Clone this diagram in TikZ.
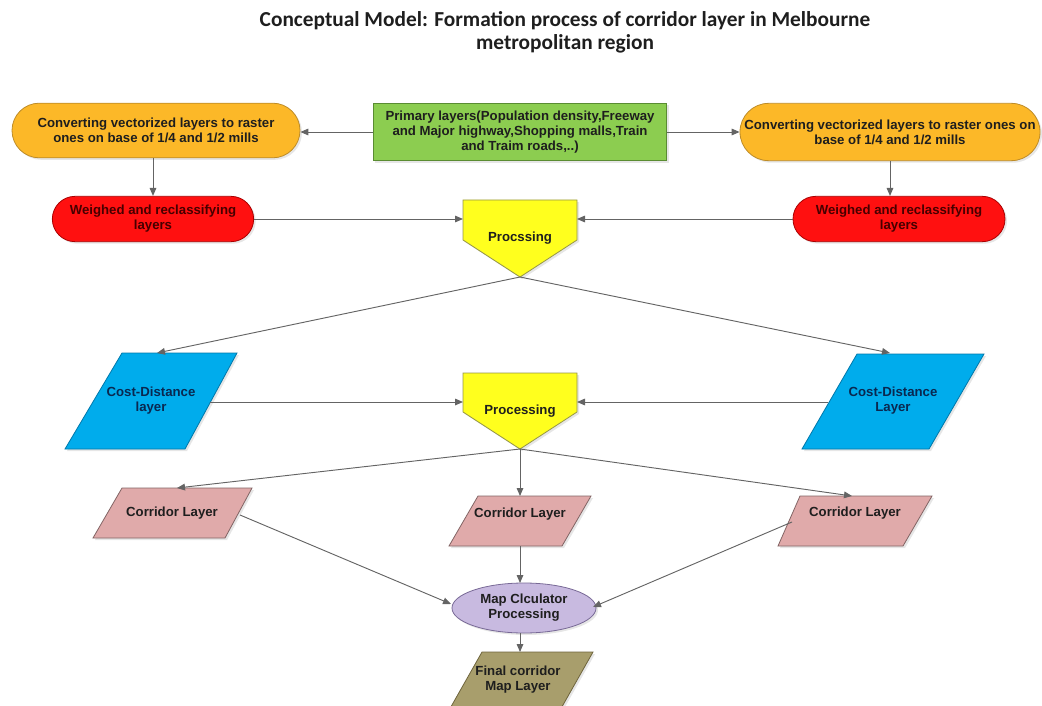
\documentclass[tikz,border=0pt]{standalone}
\usepackage{fontspec}
\setmainfont{Liberation Sans}
\newfontfamily\titlefont{Carlito}
\usetikzlibrary{shapes.misc,shapes.geometric,arrows.meta,shadows}
\definecolor{orangeF}{RGB}{252,184,40}
\definecolor{orangeD}{RGB}{190,140,40}
\definecolor{greenF}{RGB}{140,205,80}
\definecolor{greenD}{RGB}{90,140,50}
\definecolor{redF}{RGB}{255,16,16}
\definecolor{redD}{RGB}{170,0,0}
\definecolor{yellowF}{RGB}{255,255,30}
\definecolor{yellowD}{RGB}{150,150,70}
\definecolor{cyanF}{RGB}{0,172,236}
\definecolor{cyanD}{RGB}{0,120,170}
\definecolor{pinkF}{RGB}{224,170,170}
\definecolor{pinkD}{RGB}{130,100,100}
\definecolor{lavF}{RGB}{200,186,224}
\definecolor{lavD}{RGB}{120,105,150}
\definecolor{oliveF}{RGB}{168,158,108}
\definecolor{oliveD}{RGB}{110,100,60}
\definecolor{lineC}{RGB}{100,100,100}
\definecolor{txt}{RGB}{30,30,30}
\definecolor{redtxt}{RGB}{70,0,0}
\definecolor{bluetxt}{RGB}{10,40,80}
\tikzset{
  lbl/.style={font=\bfseries\fontsize{9.9}{11.2}\selectfont, text=txt, align=center, inner sep=0pt},
  stadium/.style={rounded rectangle, draw=orangeD, fill=orangeF, line width=0.6pt, inner sep=0pt,
     drop shadow={opacity=0.2,shadow xshift=1.5pt,shadow yshift=-1.5pt}},
  redstad/.style={rounded rectangle, draw=redD, fill=redF, line width=0.6pt, inner sep=0pt,
     drop shadow={opacity=0.2,shadow xshift=1.5pt,shadow yshift=-1.5pt}},
  shp/.style={line width=0.6pt, drop shadow={opacity=0.2,shadow xshift=1.5pt,shadow yshift=-1.5pt}},
  conn/.style={draw=lineC, line width=0.7pt, -{Triangle[length=6pt,width=5pt]}},
}
\begin{document}
\begin{tikzpicture}[x=0.75pt,y=-0.75pt]
\useasboundingbox (0,0) rectangle (1042,706);
% title
\node[font=\titlefont\bfseries\fontsize{16}{17.3}\selectfont, align=center, text=txt] (title) at (565,32)
  {Conceptual Model: Formation process of corridor layer in Melbourne\\metropolitan region};
% top row
\node[stadium, minimum width=216pt, minimum height=41pt] (oL) at (156,130.5) {};
\node[lbl] (oLt) at (oL) {Converting vectorized layers to raster\\ones on base of 1/4 and 1/2 mills};
\node[stadium, minimum width=225pt, minimum height=43pt] (oR) at (890,132) {};
\node[lbl] (oRt) at (oR) {Converting vectorized layers to raster ones on\\base of 1/4 and 1/2 mills};
\node[draw=greenD, fill=greenF, line width=0.6pt, minimum width=220pt, minimum height=43pt,
   drop shadow={opacity=0.2,shadow xshift=1.5pt,shadow yshift=-1.5pt}] (gr) at (520,132) {};
\node[lbl] (grt) at (gr) {Primary layers(Population density,Freeway\\and Major highway,Shopping malls,Train\\and Traim roads,..)};
% red
\node[redstad, minimum width=151pt, minimum height=34pt] (rL) at (153,219) {};
\node[lbl, text=redtxt] (rLt) at (rL) {Weighed and reclassifying\\layers};
\node[redstad, minimum width=159pt, minimum height=34pt] (rR) at (899,219) {};
\node[lbl, text=redtxt] (rRt) at (rR) {Weighed and reclassifying\\layers};
% processing 1
\draw[shp, draw=yellowD, fill=yellowF] (463,200) -- (577,200) -- (577,240) -- (520,277) -- (463,240) -- cycle;
\node[lbl] (p1) at (520,238) {Procssing};
\coordinate (p1L) at (463,219);
\coordinate (p1R) at (577,219);
\coordinate (p1B) at (520,277);
% cost distance
\draw[shp, draw=cyanD, fill=cyanF] (122,353) -- (237,353) -- (185,449) -- (65,449) -- cycle;
\node[lbl, text=bluetxt] (cdL) at (151,401) {Cost-Distance\\layer};
\draw[shp, draw=cyanD, fill=cyanF] (857,354) -- (984,354) -- (929,449) -- (802,449) -- cycle;
\node[lbl, text=bluetxt] (cdR) at (893,401) {Cost-Distance\\Layer};
\coordinate (cdLT) at (157,353);
\coordinate (cdRT) at (890,353);
\coordinate (cdLE) at (210,402);
\coordinate (cdRW) at (828,402);
% processing 2
\draw[shp, draw=yellowD, fill=yellowF] (463,373) -- (577,373) -- (577,412) -- (520,449) -- (463,412) -- cycle;
\node[lbl] (p2) at (520,411) {Processing};
\coordinate (p2L) at (463,402);
\coordinate (p2R) at (577,402);
\coordinate (p2B) at (520,449);
% corridors
\draw[shp, draw=pinkD, fill=pinkF] (122,488) -- (252,488) -- (225,538) -- (93,538) -- cycle;
\node[lbl] (cL) at (172,513) {Corridor Layer};
\draw[shp, draw=pinkD, fill=pinkF] (478,496) -- (591,496) -- (562,546) -- (449,546) -- cycle;
\node[lbl] (cM) at (520,514) {Corridor Layer};
\draw[shp, draw=pinkD, fill=pinkF] (800,496) -- (932,496) -- (903,546) -- (778,546) -- cycle;
\node[lbl] (cR) at (855,513) {Corridor Layer};
\coordinate (cLT) at (177,488);
\coordinate (cMT) at (520,496);
\coordinate (cRT) at (852,496);
\coordinate (cLE) at (240,515);
\coordinate (cMB) at (520,546);
\coordinate (cRW) at (792,522);
% ellipse
\node[ellipse, draw=lavD, fill=lavF, line width=0.6pt, minimum width=108pt, minimum height=37.5pt, inner sep=0pt,
   drop shadow={opacity=0.2,shadow xshift=1.5pt,shadow yshift=-1.5pt}] (el) at (524,608) {};
\node[lbl] (elt) at (el) {Map Clculator\\Processing};
\coordinate (elT) at (520,583);
\coordinate (elB) at (520,633);
\coordinate (elL) at (451,604);
\coordinate (elR) at (593,607);
% final
\draw[shp, draw=oliveD, fill=oliveF] (482,652) -- (593,652) -- (559,712) -- (448,712) -- cycle;
\node[lbl] (fin) at (518,680) {Final corridor\\Map Layer};
\coordinate (finT) at (520,652);
% connectors
\draw[conn] (gr.west) -- (oL.east |- gr.west);
\draw[conn] (gr.east) -- (oR.west);
\draw[conn] (rL.north |- oL.south) -- (rL.north);
\draw[conn] (oR.south) -- (rR.north -| oR.south);
\draw[conn] (rL.east) -- (p1L);
\draw[conn] (rR.west) -- (p1R);
\draw[conn] (p1B) -- (cdLT);
\draw[conn] (p1B) -- (cdRT);
\draw[conn] (cdLE) -- (p2L);
\draw[conn] (cdRW) -- (p2R);
\draw[conn] (p2B) -- (cLT);
\draw[conn] (p2B) -- (cMT);
\draw[conn] (p2B) -- (cRT);
\draw[conn] (cLE) -- (elL);
\draw[conn] (cMB) -- (elT);
\draw[conn] (cRW) -- (elR);
\draw[conn] (elB) -- (finT);
\end{tikzpicture}
\end{document}
